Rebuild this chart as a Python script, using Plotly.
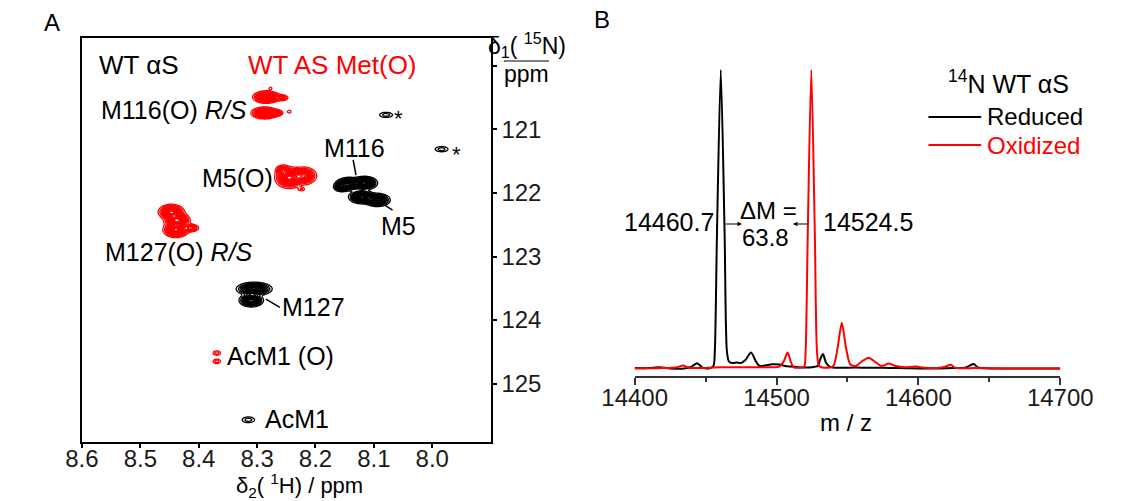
import numpy as np
import plotly.graph_objects as go

W, H = 1130, 501
FONT = "Liberation Sans, Arial, Helvetica, sans-serif"
RED = "#ff0000"

# ---------------- Panel A : 1H-15N HSQC peak lists ----------------
# WT aS (black): 1H ppm, 15N ppm, relative amplitude, 1H width (ppm), 15N width (ppm)
wt_h   = [8.1435, 8.116, 8.121, 8.094, 8.156, 8.305, 8.310, 8.315, 8.079, 7.984]
wt_n   = [121.858, 121.843, 122.063, 122.110, 121.906, 123.51, 123.69, 125.57, 120.77, 121.31]
wt_amp = [0.9, 1.0, 1.0, 0.9, 0.5, 1.0, 0.9, 0.16, 0.16, 0.16]
wt_wh  = [0.0095, 0.0095, 0.0095, 0.0095, 0.0060, 0.0130, 0.0090, 0.0075, 0.0078, 0.0078]
wt_wn  = [0.045, 0.045, 0.045, 0.045, 0.035, 0.045, 0.045, 0.032, 0.029, 0.029]

# WT aS Met(O) (red)
ox_h   = [8.284, 8.258, 8.287, 8.268, 8.245, 8.277,
          8.245, 8.219, 8.256, 8.224,
          8.447, 8.437, 8.439, 8.413,
          8.369, 8.369]
ox_n   = [120.49, 120.50, 120.74, 120.74, 120.72, 120.35,
          121.76, 121.73, 121.64, 121.94,
          122.30, 122.43, 122.58, 122.55,
          124.52, 124.65]
ox_amp = [1.0, 0.3, 1.0, 0.4, 0.10, 0.09,
          1.0, 0.7, 0.4, 0.13,
          1.0, 1.0, 1.0, 0.4,
          0.16, 0.16]
ox_wh  = [0.0100, 0.0060, 0.0100, 0.0060, 0.0030, 0.0025,
          0.0105, 0.0095, 0.0060, 0.0040,
          0.0095, 0.0095, 0.0095, 0.0065,
          0.0045, 0.0045]
ox_wn  = [0.042, 0.025, 0.040, 0.025, 0.020, 0.020,
          0.072, 0.062, 0.040, 0.020,
          0.052, 0.052, 0.052, 0.030,
          0.025, 0.025]

x_ticks_a = [8.6, 8.5, 8.4, 8.3, 8.2, 8.1, 8.0]
y_ticks_a = [120, 121, 122, 123, 124, 125]
y_ticktext_a = ["", "121", "122", "123", "124", "125"]

# ---------------- Panel B : deconvoluted mass spectra ----------------
mz_reduced = [14400, 14410, 14417, 14425, 14435, 14440, 14444, 14448, 14452, 14455.5,
              14456.5, 14458, 14460.7, 14463.4, 14465, 14466.5, 14469, 14472, 14475, 14478,
              14482, 14485.5, 14488, 14492, 14497, 14502, 14506, 14510, 14515, 14520,
              14525, 14529, 14531, 14532.7, 14535, 14538, 14545, 14555, 14565, 14575,
              14585, 14600, 14615, 14625, 14633, 14636.5, 14639, 14642, 14650, 14670, 14700]
int_reduced = [0.003, 0.003, 0.006, 0.002, 0.002, 0.008, 0.019, 0.004, 0.002, 0.010,
               0.060, 0.450, 1.000, 0.450, 0.060, 0.025, 0.020, 0.022, 0.020, 0.030,
               0.055, 0.025, 0.010, 0.012, 0.016, 0.015, 0.010, 0.008, 0.006, 0.005,
               0.006, 0.010, 0.035, 0.050, 0.020, 0.006, 0.004, 0.005, 0.004, 0.004,
               0.003, 0.002, 0.002, 0.003, 0.004, 0.012, 0.017, 0.005, 0.002, 0.002, 0.002]

mz_oxidized = [14400, 14420, 14430, 14434, 14438, 14445, 14452, 14456, 14465, 14475,
               14485, 14495, 14502, 14505, 14507.8, 14510, 14512, 14516, 14519.5, 14520.5,
               14522, 14524.5, 14527, 14528.5, 14530, 14535, 14540, 14543, 14546, 14549,
               14552, 14556, 14560, 14565, 14570, 14574, 14579, 14584, 14590, 14598,
               14605, 14615, 14620, 14623, 14626, 14640, 14660, 14700]
int_oxidized = [0.002, 0.003, 0.006, 0.012, 0.004, 0.003, 0.004, 0.005, 0.006, 0.006,
                0.006, 0.006, 0.008, 0.025, 0.055, 0.025, 0.006, 0.004, 0.008, 0.060,
                0.450, 1.000, 0.450, 0.060, 0.010, 0.004, 0.010, 0.070, 0.155, 0.070,
                0.015, 0.010, 0.025, 0.038, 0.022, 0.010, 0.018, 0.010, 0.006, 0.008,
                0.004, 0.004, 0.010, 0.014, 0.004, 0.003, 0.002, 0.002]
x_ticks_b = [14400, 14500, 14600, 14700]


def px(x):
    return x / W


def py(y):
    return 1 - y / H


# grid for the 2D spectrum
gx = np.linspace(7.9, 8.6, 520)
gy = np.linspace(119.56, 125.92, 600)
GX, GY = np.meshgrid(gx, gy)


def build_spectrum(hs, ns, amps, whs, wns):
    z = np.zeros_like(GX)
    for h0, n0, a, wh, wn in zip(hs, ns, amps, whs, wns):
        z += a * np.exp(-((GX - h0) ** 2 / (2 * wh ** 2) + (GY - n0) ** 2 / (2 * wn ** 2)))
    return z.astype(np.float32)


fig = go.Figure()

contour_levels = dict(start=0.06, end=0.96, size=0.06, coloring="lines", showlabels=False)
for z, col in [(build_spectrum(wt_h, wt_n, wt_amp, wt_wh, wt_wn), "black"),
               (build_spectrum(ox_h, ox_n, ox_amp, ox_wh, ox_wn), RED)]:
    fig.add_trace(go.Contour(
        x=gx, y=gy, z=z, xaxis="x", yaxis="y",
        contours=contour_levels, autocontour=False,
        colorscale=[[0, col], [1, col]], showscale=False,
        line=dict(width=1.3), hoverinfo="skip"))

fig.add_trace(go.Scatter(x=mz_reduced, y=int_reduced, xaxis="x2", yaxis="y2",
                         mode="lines", line=dict(color="black", width=2, shape="spline", smoothing=0.7),
                         name="Reduced", showlegend=False))
fig.add_trace(go.Scatter(x=mz_oxidized, y=int_oxidized, xaxis="x2", yaxis="y2",
                         mode="lines", line=dict(color=RED, width=2, shape="spline", smoothing=0.7),
                         name="Oxidized", showlegend=False))

tickfont = dict(family=FONT, size=24, color="#1a1a1a")

fig.update_layout(
    width=W, height=H, margin=dict(l=0, r=0, t=0, b=0),
    paper_bgcolor="white", plot_bgcolor="white",
    font=dict(family=FONT, color="black"),
    xaxis=dict(domain=[px(52), px(486)], range=[8.6, 7.9], anchor="y",
               tickvals=x_ticks_a, ticktext=[f"{v:.1f}" for v in x_ticks_a],
               ticks="outside", ticklen=4, tickwidth=1.5, tickcolor="black",
               ticklabelstandoff=-10,
               showline=True, linecolor="black", linewidth=2, mirror=True,
               showgrid=False, zeroline=False, tickfont=tickfont),
    yaxis=dict(domain=[py(442), py(38)], range=[125.92, 119.56], anchor="x", side="right",
               tickvals=y_ticks_a, ticktext=y_ticktext_a,
               ticks="outside", ticklen=4, tickwidth=1.5, tickcolor="black",
               showline=True, linecolor="black", linewidth=2, mirror=True,
               showgrid=False, zeroline=False, tickfont=tickfont),
    xaxis2=dict(domain=[px(639), px(1091)], range=[14400, 14700], anchor="y2",
                tickvals=x_ticks_b, ticktext=[str(v) for v in x_ticks_b],
                ticks="outside", ticklen=7, tickwidth=1.5, tickcolor="#333",
                ticklabelstandoff=-8,
                minor=dict(dtick=50, tick0=14400, ticks="outside", ticklen=4, tickwidth=1.5, tickcolor="#333"),
                showline=True, linecolor="#333", linewidth=1.5,
                showgrid=False, zeroline=False, tickfont=tickfont),
    yaxis2=dict(domain=[py(376), py(64)], range=[-0.0234, 1.02], anchor="x2", visible=False),
)

ann = []


def txt(text, x, y, size=25, color="black", xanchor="center", xref="paper", yref="paper", yshift=0):
    ann.append(dict(text=text, x=x, y=y, xref=xref, yref=yref, showarrow=False,
                    xanchor=xanchor, yanchor="middle", yshift=yshift,
                    font=dict(family=FONT, size=size, color=color)))


# panel letters
txt("A", px(20), py(22), size=24)
txt("B", px(604), py(20), size=24)

# panel A labels (data coordinates)
txt("WT αS", 8.503, 119.98, size=26, xref="x", yref="y")
txt("WT AS Met(O)", 8.171, 119.98, size=26, color=RED, xref="x", yref="y")
txt("M116(O) <i>R/S</i>", 8.3145, 120.69, xanchor="right", xref="x", yref="y")
txt("M116", 8.133, 121.29, xref="x", yref="y")
txt("M5(O)", 8.269, 121.76, xanchor="right", xref="x", yref="y")
txt("M5", 8.058, 122.52, xref="x", yref="y")
txt("M127(O) <i>R/S</i>", 8.434, 122.93, xref="x", yref="y")
txt("M127", 8.261, 123.80, xanchor="left", xref="x", yref="y")
txt("AcM1 (O)", 8.260, 124.57, xref="x", yref="y")
txt("AcM1", 8.231, 125.55, xref="x", yref="y")
txt("*", 8.058, 120.72, size=22, xref="x", yref="y", yshift=-7)
txt("*", 7.958, 121.29, size=22, xref="x", yref="y", yshift=-7)

# axis titles panel A
txt("δ<sub>2</sub>( <sup>1</sup>H) / ppm", px(283), py(485), size=22)
txt("δ<sub>1</sub>( <sup>15</sup>N)", px(525), py(45), size=23)
txt("ppm", px(524), py(74), size=23)

# panel B labels
txt("14460.7", px(725), py(222), xanchor="right")
txt("14524.5", px(837), py(222), xanchor="left")
txt("ΔM =", px(781), py(210), size=24)
txt("63.8", px(778), py(237), size=24)
txt("m / z", px(863), py(422), size=24)
txt("<sup>14</sup>N WT αS", px(1036), py(82), size=25)
txt("Reduced", px(1011), py(117), size=24, xanchor="left")
txt("Oxidized", px(1011), py(145), size=24, color=RED, xanchor="left")

# small arrows for delta M (tail offsets in pixels)
ann.append(dict(x=px(753), y=py(224), ax=-18, ay=0, xref="paper", yref="paper",
                text="", showarrow=True, arrowhead=2,
                arrowsize=0.9, arrowwidth=1, arrowcolor="black"))
ann.append(dict(x=px(807), y=py(224), ax=16, ay=0, xref="paper", yref="paper",
                text="", showarrow=True, arrowhead=2,
                arrowsize=0.9, arrowwidth=1, arrowcolor="black"))

fig.update_layout(annotations=ann)

shapes = [
    # leader lines (panel A, data coordinates)
    dict(type="line", xref="x", yref="y", x0=8.1355, y0=121.48, x1=8.1306, y1=121.72,
         line=dict(color="black", width=1.5)),
    dict(type="line", xref="x", yref="y", x0=8.068, y0=122.27, x1=8.100, y1=122.08,
         line=dict(color="black", width=1.5)),
    dict(type="line", xref="x", yref="y", x0=8.261, y0=123.80, x1=8.285, y1=123.67,
         line=dict(color="black", width=1.5)),
    # fraction bar of the 15N axis title
    dict(type="line", xref="paper", yref="paper", x0=px(500), y0=py(61), x1=px(548), y1=py(61),
         line=dict(color="black", width=1.2)),
    # legend samples (panel B)
    dict(type="line", xref="paper", yref="paper", x0=px(951), y0=py(117), x1=px(1007), y1=py(117),
         line=dict(color="black", width=2)),
    dict(type="line", xref="paper", yref="paper", x0=px(951), y0=py(145), x1=px(1007), y1=py(145),
         line=dict(color=RED, width=2)),
]
fig.update_layout(shapes=shapes)

fig.write_html("out.html")
